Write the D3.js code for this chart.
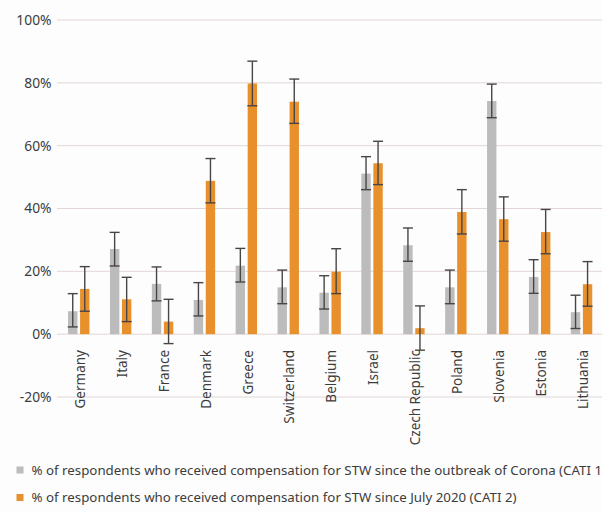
<!DOCTYPE html>
<html>
<head>
<meta charset="utf-8">
<script src="https://cdn.jsdelivr.net/npm/d3@7"></script>
<style>
  html, body { margin: 0; padding: 0; background: #fdfdfd; }
  svg { display: block; font-family: "Noto Sans", "Open Sans", sans-serif; }
</style>
</head>
<body>
<svg id="chart" width="602" height="511"></svg>
<script>
// Short-time work compensation by country, two survey waves
const countries = ["Germany", "Italy", "France", "Denmark", "Greece", "Switzerland", "Belgium",
  "Israel", "Czech Republic", "Poland", "Slovenia", "Estonia", "Lithuania"];

const seriesNames = [
  "% of respondents who received compensation for STW since the outbreak of Corona (CATI 1)",
  "% of respondents who received compensation for STW since July 2020 (CATI 2)"
];

// CATI 1: value, lower and upper bound of confidence interval (%)
const cati1 = [7.3, 27.1, 16.0, 10.9, 21.8, 14.9, 13.2, 51.1, 28.3, 14.9, 74.2, 18.2, 7.0];
const cati1Low = [2.3, 21.7, 10.6, 5.8, 16.6, 9.7, 8.0, 46.0, 23.2, 9.7, 68.9, 13.0, 1.8];
const cati1High = [12.9, 32.4, 21.4, 16.4, 27.3, 20.4, 18.6, 56.5, 33.8, 20.4, 79.6, 23.7, 12.4];

// CATI 2: value, lower and upper bound of confidence interval (%)
const cati2 = [14.4, 11.1, 4.0, 48.8, 79.8, 74.0, 19.9, 54.4, 1.9, 38.9, 36.6, 32.5, 15.9];
const cati2Low = [7.3, 4.0, -3.0, 41.8, 72.7, 67.1, 12.9, 47.6, -5.1, 31.9, 29.6, 25.6, 8.9];
const cati2High = [21.5, 18.1, 11.1, 55.9, 86.9, 81.2, 27.2, 61.4, 9.0, 46.0, 43.7, 39.7, 23.1];

const yTicks = [-20, 0, 20, 40, 60, 80, 100];
const seriesColors = ["#bcbcbc", "#e8912c"];

const svg = d3.select("#chart");

const x = d3.scaleBand().domain(countries).range([57.8, 602.5]).paddingInner(0).paddingOuter(0);
const y = d3.scaleLinear().domain([-20, 100]).range([397, 20]);
const sub = d3.scaleBand().domain([0, 1]).range([0, 21.4]).paddingInner(0.22);
const groupOffset = (x.bandwidth() - 21.4) / 2;

// Grid lines
svg.append("g")
  .selectAll("line")
  .data(yTicks)
  .join("line")
  .attr("x1", 57).attr("x2", 602)
  .attr("y1", d => y(d)).attr("y2", d => y(d))
  .attr("stroke", "#e2d6d6").attr("stroke-width", 1);

// Y axis labels
const yAxis = d3.axisLeft(y).tickValues(yTicks).tickFormat(d => d + "%").tickSize(0).tickPadding(0);
const yg = svg.append("g").attr("transform", "translate(51.5,0)").call(yAxis);
yg.select(".domain").remove();
yg.selectAll("text").attr("font-size", 13.8).attr("fill", "#3c3c3c")
  .attr("font-family", "'Noto Sans', 'Open Sans', sans-serif");

// Bars and error bars
const rows = countries.map((c, i) => ({
  country: c,
  vals: [
    { s: 0, v: cati1[i], lo: cati1Low[i], hi: cati1High[i] },
    { s: 1, v: cati2[i], lo: cati2Low[i], hi: cati2High[i] }
  ]
}));

const groups = svg.append("g")
  .selectAll("g")
  .data(rows)
  .join("g")
  .attr("transform", d => `translate(${x(d.country) + groupOffset},0)`);

groups.selectAll("rect")
  .data(d => d.vals)
  .join("rect")
  .attr("x", d => sub(d.s))
  .attr("width", sub.bandwidth())
  .attr("y", d => y(Math.max(0, d.v)))
  .attr("height", d => Math.abs(y(d.v) - y(0)))
  .attr("fill", d => seriesColors[d.s]);

const err = groups.selectAll("g.err")
  .data(d => d.vals)
  .join("g")
  .attr("class", "err")
  .attr("transform", d => `translate(${sub(d.s) + sub.bandwidth() / 2},0)`)
  .attr("stroke", "#4a4545")
  .attr("stroke-width", 1.4);

err.append("line").attr("x1", 0).attr("x2", 0)
  .attr("y1", d => y(d.hi)).attr("y2", d => y(d.lo));
err.append("line").attr("x1", -5).attr("x2", 5)
  .attr("y1", d => y(d.hi)).attr("y2", d => y(d.hi));
err.append("line").attr("x1", -5).attr("x2", 5)
  .attr("y1", d => y(d.lo)).attr("y2", d => y(d.lo));

// Country labels, rotated
svg.append("g")
  .selectAll("text")
  .data(countries)
  .join("text")
  .attr("transform", d => `translate(${x(d) + x.bandwidth() / 2 + 1.5},350) rotate(-90)`)
  .attr("text-anchor", "end")
  .attr("dy", "0.35em")
  .attr("font-size", 13.5)
  .attr("fill", "#3c3c3c")
  .text(d => d);

// Legend
const legend = svg.append("g")
  .selectAll("g")
  .data(seriesNames)
  .join("g")
  .attr("transform", (d, i) => `translate(0,${470 + i * 27.5})`);

legend.append("rect")
  .attr("x", 16.5).attr("y", -3.5).attr("width", 7).attr("height", 7)
  .attr("fill", (d, i) => seriesColors[i]);

legend.append("text")
  .attr("x", 31.5).attr("y", 0).attr("dy", "0.35em")
  .attr("font-size", 13.3)
  .attr("fill", "#3c3c3c")
  .text(d => d);
</script>
</body>
</html>
